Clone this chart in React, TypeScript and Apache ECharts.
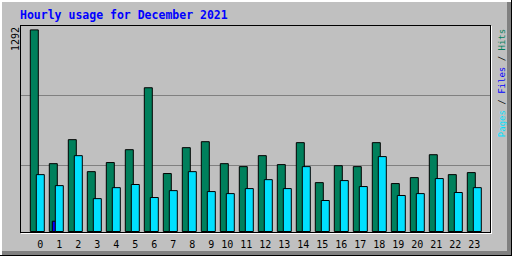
import React, { useEffect, useRef } from "react";
import * as echarts from "echarts";

const hours = ["0","1","2","3","4","5","6","7","8","9","10","11","12","13","14","15","16","17","18","19","20","21","22","23"];
const hits = [1292, 439, 592, 388, 446, 528, 923, 376, 541, 579, 439, 420, 490, 433, 573, 318, 426, 420, 573, 312, 350, 496, 369, 382];
const files = [0, 72, 5, 0, 0, 4, 4, 4, 0, 0, 0, 0, 0, 0, 5, 0, 0, 4, 0, 0, 0, 0, 0, 0];
const pages = [369, 299, 490, 216, 286, 306, 223, 267, 388, 261, 248, 280, 337, 280, 420, 204, 331, 293, 484, 236, 248, 344, 255, 286];
const titleText = "Hourly usage for December 2021";

const MONO = "DejaVu Sans Mono";

export default function App() {
  const ref = useRef<HTMLDivElement>(null);
  useEffect(() => {
    if (!ref.current) return;
    const chart = echarts.init(ref.current, undefined, { renderer: "svg" });
    const maxHits = Math.max(...hits);
    const barCommon = {
      type: "bar" as const,
      xAxisIndex: 1,
      yAxisIndex: 1,
      barWidth: 9,
      barGap: "-66.67%",
      silent: true,
    };
    chart.setOption({
      animation: false,
      backgroundColor: "#c0c0c0",
      grid: [
        { left: 20, width: 471, top: 25.5, height: 210 },
        { left: 27.8, width: 456, top: 25, height: 207 },
        { left: 33.8, width: 456, top: 25, height: 209 },
      ],
      xAxis: [
        { gridIndex: 0, type: "category", data: hours, show: false },
        { gridIndex: 1, type: "category", data: hours, show: false },
        {
          gridIndex: 2,
          type: "category",
          data: hours,
          axisLine: { show: false },
          axisTick: { show: false },
          axisLabel: {
            interval: 0,
            align: "right",
            margin: 5,
            fontFamily: MONO,
            fontSize: 10,
            color: "#000",
          },
        },
      ],
      yAxis: [
        {
          gridIndex: 0,
          type: "value",
          min: 0,
          max: 3,
          interval: 1,
          axisLabel: { show: false },
          axisLine: { show: false },
          axisTick: { show: false },
          splitLine: {
            show: true,
            showMinLine: false,
            showMaxLine: false,
            lineStyle: { color: "#808080", width: 1 },
          },
        },
        { gridIndex: 1, type: "value", min: 0, max: 1320, show: false, splitLine: { show: false } },
        { gridIndex: 2, type: "value", show: false, splitLine: { show: false } },
      ],
      series: [
        { ...barCommon, name: "Hits", data: hits, itemStyle: { color: "#00805c", borderColor: "#000", borderWidth: 1 } },
        { ...barCommon, name: "Files", data: files, itemStyle: { color: "#0000ff", borderColor: "#000", borderWidth: 1 } },
        { ...barCommon, name: "Pages", data: pages, itemStyle: { color: "#00e0ff", borderColor: "#000", borderWidth: 1 } },
      ],
      graphic: [
        // outer bevel
        { type: "rect", z: 100, shape: { x: 0, y: 0, width: 2, height: 256 }, style: { fill: "#ffffff" }, silent: true },
        { type: "rect", z: 100, shape: { x: 0, y: 0, width: 512, height: 2 }, style: { fill: "#ffffff" }, silent: true },
        { type: "rect", z: 100, shape: { x: 507, y: 2, width: 4, height: 253 }, style: { fill: "#808080" }, silent: true },
        { type: "rect", z: 100, shape: { x: 2, y: 251, width: 509, height: 4 }, style: { fill: "#808080" }, silent: true },
        { type: "rect", z: 100, shape: { x: 511, y: 0, width: 1, height: 256 }, style: { fill: "#000000" }, silent: true },
        { type: "rect", z: 100, shape: { x: 0, y: 255, width: 512, height: 1 }, style: { fill: "#000000" }, silent: true },
        // plot frame
        { type: "line", z: 100, shape: { x1: 20, y1: 25.5, x2: 491, y2: 25.5 }, style: { stroke: "#000", lineWidth: 1 }, silent: true },
        { type: "line", z: 100, shape: { x1: 20.5, y1: 25, x2: 20.5, y2: 233 }, style: { stroke: "#000", lineWidth: 1 }, silent: true },
        { type: "line", z: 100, shape: { x1: 490.5, y1: 25, x2: 490.5, y2: 233 }, style: { stroke: "#000", lineWidth: 1 }, silent: true },
        { type: "line", z: 100, shape: { x1: 20, y1: 232.5, x2: 491, y2: 232.5 }, style: { stroke: "#000", lineWidth: 1 }, silent: true },
        { type: "line", z: 100, shape: { x1: 21, y1: 233.5, x2: 492, y2: 233.5 }, style: { stroke: "#fff", lineWidth: 1 }, silent: true },
        { type: "line", z: 100, shape: { x1: 491.5, y1: 26, x2: 491.5, y2: 234 }, style: { stroke: "#fff", lineWidth: 1 }, silent: true },
        // title
        {
          type: "text",
          z: 100,
          x: 20,
          y: 15,
          silent: true,
          style: {
            text: titleText,
            fill: "#0000ff",
            fontFamily: MONO,
            fontWeight: "bold",
            fontSize: 11.5,
            align: "left",
            verticalAlign: "middle",
          },
        },
        // max value label
        {
          type: "text",
          z: 100,
          x: 15.3,
          y: 39,
          rotation: Math.PI / 2,
          silent: true,
          style: {
            text: String(maxHits),
            fill: "#000",
            fontFamily: MONO,
            fontSize: 10,
            align: "center",
            verticalAlign: "middle",
          },
        },
        // legend
        {
          type: "text",
          z: 100,
          x: 502,
          y: 83,
          rotation: Math.PI / 2,
          silent: true,
          style: {
            text: "{p|Pages} {s|/} {f|Files} {s|/} {h|Hits}",
            fontFamily: MONO,
            fontSize: 9,
            align: "center",
            verticalAlign: "middle",
            rich: {
              p: { fill: "#00e0ff", fontFamily: MONO, fontSize: 9 },
              f: { fill: "#0000ff", fontFamily: MONO, fontSize: 9 },
              h: { fill: "#00805c", fontFamily: MONO, fontSize: 9 },
              s: { fill: "#000000", fontFamily: MONO, fontSize: 9 },
            },
          },
        },
      ],
    });
    return () => chart.dispose();
  }, []);
  return <div ref={ref} style={{ position: "fixed", left: 0, top: 0, width: 512, height: 256 }} />;
}
